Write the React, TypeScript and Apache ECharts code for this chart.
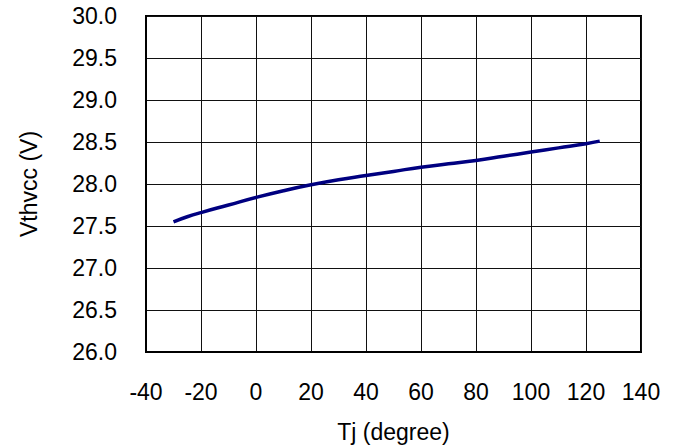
import React, { useEffect, useRef } from "react";
import * as echarts from "echarts";

const tjValues = [-30, -25, -20, -10, 0, 10, 20, 30, 40, 50, 60, 70, 80, 90, 100, 110, 120, 125];
const vthvccValues = [27.55, 27.61, 27.66, 27.75, 27.84, 27.92, 27.99, 28.05, 28.1, 28.15, 28.2, 28.24, 28.28, 28.33, 28.38, 28.43, 28.48, 28.51];
const xAxisTitle = "Tj (degree)";
const yAxisTitle = "Vthvcc (V)";

const FONT = "'Liberation Sans', Arial, sans-serif";

export default function App() {
  const ref = useRef<HTMLDivElement>(null);
  useEffect(() => {
    if (!ref.current) return;
    const chart = echarts.init(ref.current, undefined, { renderer: "svg" });
    const data = tjValues.map((t, i) => [t, vthvccValues[i]]);
    chart.setOption({
      animation: false,
      backgroundColor: "#ffffff",
      grid: {
        left: 146,
        right: 34,
        top: 16,
        bottom: 95,
        show: true,
        borderColor: "#000",
        borderWidth: 2,
        backgroundColor: "transparent",
      },
      xAxis: {
        type: "value",
        min: -40,
        max: 140,
        interval: 20,
        name: xAxisTitle,
        nameLocation: "middle",
        nameGap: 68,
        nameTextStyle: { fontFamily: FONT, fontSize: 23, color: "#000" },
        axisLine: { show: true, onZero: false, lineStyle: { color: "#000", width: 2 } },
        axisTick: { show: false },
        axisLabel: { fontFamily: FONT, fontSize: 23, color: "#000", margin: 28 },
        splitLine: { show: true, lineStyle: { color: "#111", width: 1 } },
      },
      yAxis: {
        type: "value",
        min: 26,
        max: 30,
        interval: 0.5,
        name: yAxisTitle,
        nameLocation: "middle",
        nameGap: 106,
        nameRotate: 90,
        nameTextStyle: { fontFamily: FONT, fontSize: 23, color: "#000" },
        axisLine: { show: true, onZero: false, lineStyle: { color: "#000", width: 2 } },
        axisTick: { show: false },
        axisLabel: {
          fontFamily: FONT,
          fontSize: 23,
          color: "#000",
          margin: 29,
          formatter: (v: number) => v.toFixed(1),
        },
        splitLine: { show: true, lineStyle: { color: "#111", width: 1 } },
      },
      series: [
        {
          type: "line",
          data,
          showSymbol: false,
          smooth: true,
          lineStyle: { color: "#000080", width: 3.5 },
        },
      ],
    });
    return () => chart.dispose();
  }, []);
  return (
    <div
      ref={ref}
      style={{ position: "fixed", left: 0, top: 0, width: 675, height: 448, background: "#fff" }}
    />
  );
}
